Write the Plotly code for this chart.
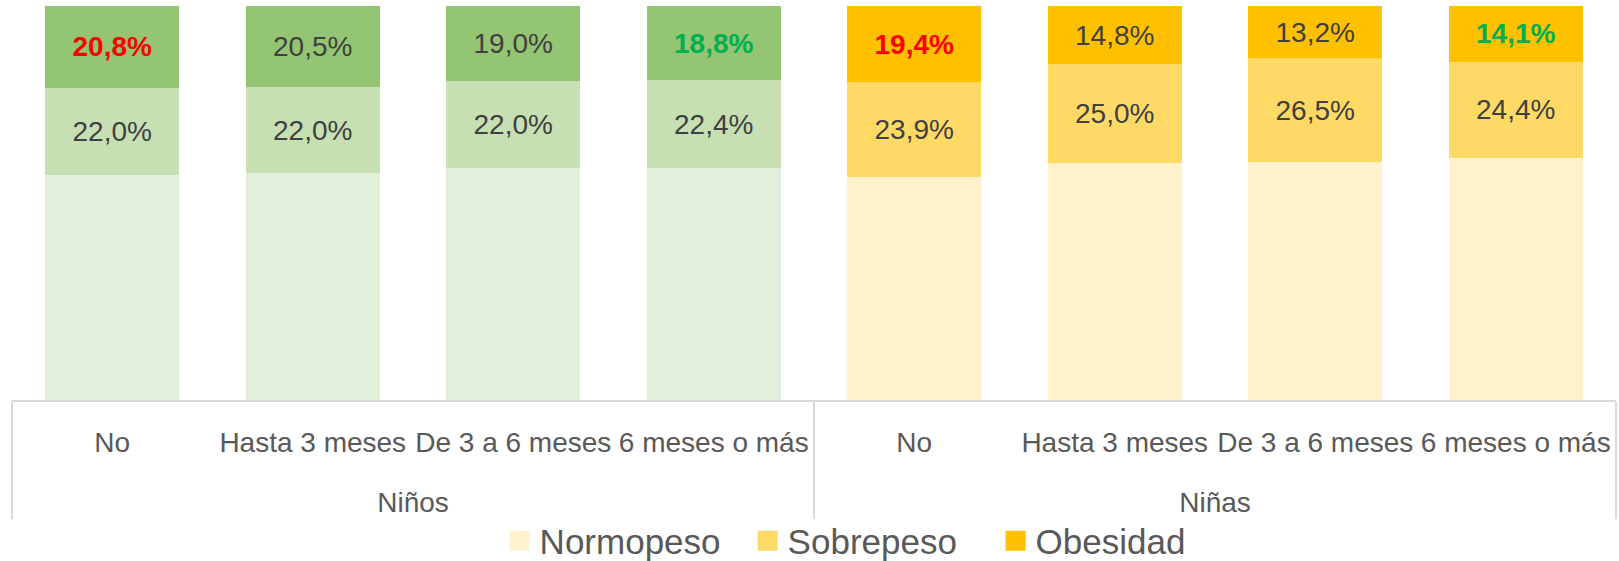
import plotly.graph_objects as go

groups = ["Niños"] * 4 + ["Niñas"] * 4
categories = ["No", "Hasta 3 meses", "De 3 a 6 meses", "6 meses o más"] * 2
normopeso = [57.2, 57.5, 59.0, 58.8, 56.7, 60.2, 60.3, 61.5]
sobrepeso = [22.0, 22.0, 22.0, 22.4, 23.9, 25.0, 26.5, 24.4]
obesidad = [20.8, 20.5, 19.0, 18.8, 19.4, 14.8, 13.2, 14.1]
series_names = ["Normopeso", "Sobrepeso", "Obesidad"]

col_normo = ["#E2EFDA"] * 4 + ["#FFF2CC"] * 4
col_sobre = ["#C6E0B4"] * 4 + ["#FFD966"] * 4
col_obes = ["#93C572"] * 4 + ["#FFC000"] * 4
legend_cols = ["#FFF2CC", "#FFD966", "#FFC000"]

DARK = "#404040"
obes_txt_col = ["#FF0000", DARK, DARK, "#00B050", "#FF0000", DARK, DARK, "#00B050"]
obes_bold = [True, False, False, True, True, False, False, True]

def fmt(v):
    return f"{v:.1f}".replace(".", ",") + "%"

obes_text = [f"<b>{fmt(v)}</b>" if b else fmt(v) for v, b in zip(obesidad, obes_bold)]
sobre_text = [fmt(v) for v in sobrepeso]

FONT = "Liberation Sans, Arial, sans-serif"
# group labels get a leading line break so they sit lower, as in the original
group_labels = ["<br><span style='baseline-shift:-7px'>" + g + "</span>" for g in groups]
x = [group_labels, categories]

fig = go.Figure()
fig.add_trace(go.Bar(x=x, y=normopeso, name=series_names[0], showlegend=False,
                     marker=dict(color=col_normo, line=dict(width=0))))
fig.add_trace(go.Bar(x=x, y=sobrepeso, name=series_names[1], text=sobre_text, showlegend=False,
                     textposition="inside", insidetextanchor="middle",
                     textfont=dict(color=DARK, size=28, family=FONT),
                     marker=dict(color=col_sobre, line=dict(width=0))))
fig.add_trace(go.Bar(x=x, y=obesidad, name=series_names[2], text=obes_text, showlegend=False,
                     textposition="inside", insidetextanchor="middle",
                     textfont=dict(color=obes_txt_col, size=28, family=FONT),
                     marker=dict(color=col_obes, line=dict(width=0))))

# legend entries (Niñas colours, as in the original legend)
for nm, c in zip(series_names, legend_cols):
    fig.add_trace(go.Scatter(x=[[group_labels[4]], [categories[4]]], y=[None], name=nm,
                             mode="markers", hoverinfo="skip",
                             marker=dict(symbol="square", size=16, color=c,
                                         line=dict(color=c, width=4))))

fig.update_layout(
    barmode="stack",
    bargap=0.33,
    width=1619, height=561,
    margin=dict(l=12, r=3, t=6, b=161, autoexpand=False),
    paper_bgcolor="white",
    plot_bgcolor="white",
    font=dict(family=FONT, color="#595959", size=28),
    uniformtext=dict(minsize=28, mode="show"),
    showlegend=True,
    legend=dict(orientation="h", x=0.304, xanchor="left", y=-0.358, yanchor="middle",
                font=dict(size=35, color="#595959"), traceorder="normal",
                itemsizing="trace", entrywidth=203, entrywidthmode="pixels",
                bgcolor="rgba(0,0,0,0)"),
    xaxis=dict(type="multicategory", showline=True, linecolor="#D9D9D9", linewidth=2,
               showdividers=True, dividercolor="#D9D9D9", dividerwidth=2,
               ticks="", ticklabelstandoff=16,
               tickangle=0, automargin=False,
               tickfont=dict(size=28, color="#595959")),
    yaxis=dict(range=[0, 100], visible=False, showgrid=False, fixedrange=True),
)

fig.write_html("out.html", config={"displayModeBar": False},
               post_script="document.body.style.margin='0';document.body.style.overflow='hidden';")
